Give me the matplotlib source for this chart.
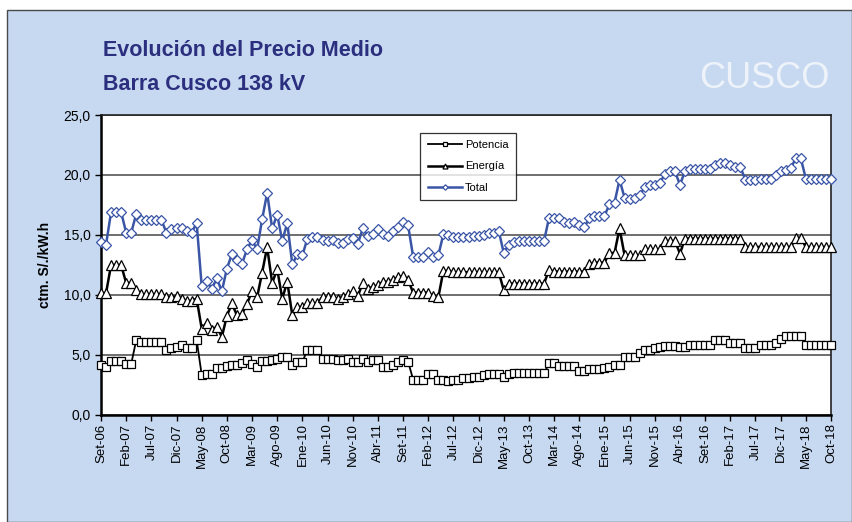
import matplotlib
matplotlib.use('Agg')
import matplotlib.pyplot as plt
from matplotlib.patches import Rectangle
import numpy as np

plt.rcParams['font.family'] = ['Liberation Sans', 'DejaVu Sans']

# Monthly prices, Set-06 .. Oct-18 (146 months), ctm. S/./kW.h
total = [
    14.4, 14.2, 16.9, 16.9, 16.9, 15.2, 15.2, 16.75, 16.25, 16.25,
    16.25, 16.25, 16.25, 15.2, 15.5, 15.55, 15.55, 15.3, 15.2, 16.0,
    10.75, 11.2, 10.5, 11.4, 10.3, 12.2, 13.4, 12.9, 12.6, 13.8,
    14.6, 13.8, 16.3, 18.5, 15.55, 16.7, 14.5, 16.0, 12.55, 13.4,
    13.3, 14.7, 14.8, 14.8, 14.6, 14.5, 14.6, 14.3, 14.3, 14.7,
    14.75, 14.25, 15.55, 14.9, 15.1, 15.5, 15.05, 14.9, 15.3, 15.7,
    16.1, 15.8, 13.2, 13.2, 13.2, 13.55, 13.2, 13.3, 15.05, 15.0,
    14.85, 14.8, 14.85, 14.85, 14.9, 14.9, 15.0, 15.2, 15.2, 15.35,
    13.5, 14.2, 14.45, 14.5, 14.5, 14.5, 14.5, 14.5, 14.5, 16.45,
    16.45, 16.4, 16.1, 16.0, 16.1, 15.8, 15.65, 16.4, 16.6, 16.6,
    16.6, 17.55, 17.7, 19.6, 18.1, 18.0, 18.05, 18.3, 19.0, 19.2,
    19.2, 19.3, 20.1, 20.3, 20.3, 19.2, 20.3, 20.5, 20.5, 20.5,
    20.5, 20.5, 20.8, 21.0, 21.0, 20.8, 20.65, 20.65, 19.6, 19.6,
    19.6, 19.7, 19.7, 19.7, 20.0, 20.3, 20.4, 20.55, 21.4, 21.4,
    19.7, 19.7, 19.7, 19.7, 19.7, 19.7,
]

energia = [
    10.15, 10.15, 12.5, 12.5, 12.5, 11.0, 11.0, 10.4, 10.05, 10.05,
    10.05, 10.05, 10.05, 9.8, 9.8, 9.9, 9.7, 9.5, 9.5, 9.7,
    7.2, 7.7, 7.1, 7.35, 6.5, 8.25, 9.3, 8.3, 8.4, 9.25,
    10.35, 9.8, 11.85, 14.0, 11.0, 12.15, 9.7, 11.1, 8.3, 9.0,
    9.0, 9.3, 9.3, 9.3, 9.85, 9.8, 9.8, 9.7, 9.85, 10.05,
    10.3, 9.9, 11.0, 10.5, 10.7, 10.8, 11.1, 11.1, 11.25, 11.5,
    11.6, 11.25, 10.2, 10.2, 10.2, 10.2, 9.9, 9.8, 12.0, 12.0,
    11.9, 11.9, 11.9, 11.9, 11.9, 11.9, 11.9, 11.9, 11.9, 11.9,
    10.4, 10.95, 10.95, 10.95, 10.95, 10.95, 10.95, 10.95, 10.95, 12.1,
    11.95, 11.95, 11.95, 11.95, 11.95, 11.95, 11.95, 12.6, 12.7, 12.7,
    12.7, 13.5, 13.5, 15.55, 13.3, 13.3, 13.3, 13.3, 13.8, 13.8,
    13.8, 13.8, 14.5, 14.5, 14.5, 13.45, 14.7, 14.7, 14.7, 14.7,
    14.7, 14.7, 14.7, 14.7, 14.7, 14.7, 14.7, 14.7, 14.0, 14.0,
    14.0, 14.0, 14.0, 14.0, 14.0, 14.0, 14.0, 14.0, 14.75, 14.75,
    14.0, 14.0, 14.0, 14.0, 14.0, 14.0,
]

potencia = [
    4.15, 4.0, 4.5, 4.5, 4.5, 4.25, 4.25, 6.25, 6.1, 6.1,
    6.1, 6.1, 6.1, 5.4, 5.55, 5.65, 5.8, 5.55, 5.55, 6.25,
    3.35, 3.45, 3.45, 3.9, 3.9, 4.1, 4.2, 4.2, 4.3, 4.6,
    4.25, 4.0, 4.5, 4.5, 4.6, 4.65, 4.85, 4.85, 4.15, 4.45,
    4.45, 5.4, 5.4, 5.4, 4.7, 4.7, 4.7, 4.6, 4.6, 4.65,
    4.45, 4.4, 4.65, 4.4, 4.6, 4.6, 4.0, 4.0, 4.15, 4.45,
    4.6, 4.45, 2.95, 2.95, 2.95, 3.45, 3.4, 2.95, 2.9, 2.85,
    2.95, 2.95, 3.05, 3.05, 3.2, 3.2, 3.35, 3.45, 3.45, 3.45,
    3.2, 3.4, 3.5, 3.5, 3.5, 3.5, 3.5, 3.5, 3.5, 4.3,
    4.3, 4.1, 4.1, 4.1, 4.1, 3.7, 3.7, 3.8, 3.8, 3.8,
    3.95, 4.0, 4.15, 4.15, 4.8, 4.8, 4.8, 5.2, 5.4, 5.45,
    5.55, 5.65, 5.75, 5.75, 5.75, 5.65, 5.65, 5.8, 5.8, 5.85,
    5.85, 5.85, 6.25, 6.25, 6.25, 6.0, 6.0, 6.0, 5.55, 5.55,
    5.55, 5.85, 5.85, 5.85, 6.0, 6.3, 6.6, 6.6, 6.6, 6.6,
    5.85, 5.85, 5.85, 5.85, 5.85, 5.85,
]

x_labels = ['Set-06', 'Feb-07', 'Jul-07', 'Dic-07', 'May-08', 'Oct-08', 'Mar-09',
            'Ago-09', 'Ene-10', 'Jun-10', 'Nov-10', 'Abr-11', 'Set-11', 'Feb-12',
            'Jul-12', 'Dic-12', 'May-13', 'Oct-13', 'Mar-14', 'Ago-14', 'Ene-15',
            'Jun-15', 'Nov-15', 'Abr-16', 'Set-16', 'Feb-17', 'Jul-17', 'Dic-17',
            'May-18', 'Oct-18']
y_ticks = [0, 5, 10, 15, 20, 25]
y_labels = ['0,0', '5,0', '10,0', '15,0', '20,0', '25,0']

W, H = 852, 522
fig = plt.figure(figsize=(W / 100, H / 100), dpi=100, facecolor='white')

# light blue panel behind everything
fig.patches.append(Rectangle((7 / W, 0), 1 - 7 / W, 1 - 10 / H, transform=fig.transFigure,
                             facecolor='#C6D9F1', edgecolor='#4a4a4a', linewidth=1.0, zorder=-5))

fig.text(103 / W, 1 - 50 / H, 'Evolución del Precio Medio', fontsize=15.5, fontweight='bold',
         color='#2B2F7E', va='center', ha='left')
fig.text(103 / W, 1 - 85 / H, 'Barra Cusco 138 kV', fontsize=15.5, fontweight='bold',
         color='#2B2F7E', va='center', ha='left')
fig.text(830 / W, 1 - 78 / H, 'CUSCO', fontsize=26, color='#EEF3FA', va='center', ha='right')

ax = fig.add_axes([101 / W, 107 / H, 730 / W, 300 / H])
ax.set_zorder(2)
ax.set_facecolor('white')

x = np.arange(len(total))
ax.plot(x, potencia, color='black', lw=1.3, marker='s', ms=5.5, mfc='white', mec='black',
        mew=0.9, label='Potencia', zorder=3, clip_on=False)
ax.plot(x, energia, color='black', lw=1.8, marker='^', ms=6.5, mfc='white', mec='black',
        mew=0.9, label='Energía', zorder=3, clip_on=False)
ax.plot(x, total, color='#3A55A6', lw=1.8, marker='D', ms=5, mfc='white', mec='#3A55A6',
        mew=0.9, label='Total', zorder=3, clip_on=False)

ax.set_xlim(0, len(total) - 1)
ax.set_ylim(0, 25)
ax.set_yticks(y_ticks)
ax.set_yticklabels(y_labels, fontsize=10)
ax.set_xticks(np.arange(0, len(total), 5))
ax.set_xticklabels(x_labels, rotation=90, fontsize=9.5)
ax.tick_params(axis='both', direction='out', length=4, width=1, color='black')
ax.tick_params(axis='x', pad=2)
ax.grid(axis='y', color='#555555', lw=1.2, zorder=1)
for s in ax.spines.values():
    s.set_color('#222222')
    s.set_linewidth(1.2)
ax.spines['left'].set_color('black')
ax.spines['bottom'].set_color('black')
ax.spines['left'].set_linewidth(1.8)
ax.spines['bottom'].set_linewidth(1.8)

ax.set_ylabel('ctm. S/./kW.h', fontsize=10, fontweight='bold', labelpad=8)

leg = ax.legend(loc='upper left', bbox_to_anchor=(0.43, 0.96), fontsize=8, markerscale=0.55,
                frameon=True, fancybox=False, edgecolor='black', handlelength=3,
                borderpad=0.7, labelspacing=1.0, handletextpad=0.3)
leg.get_frame().set_linewidth(0.9)

fig.savefig('out.png', dpi=100, facecolor=fig.get_facecolor())
